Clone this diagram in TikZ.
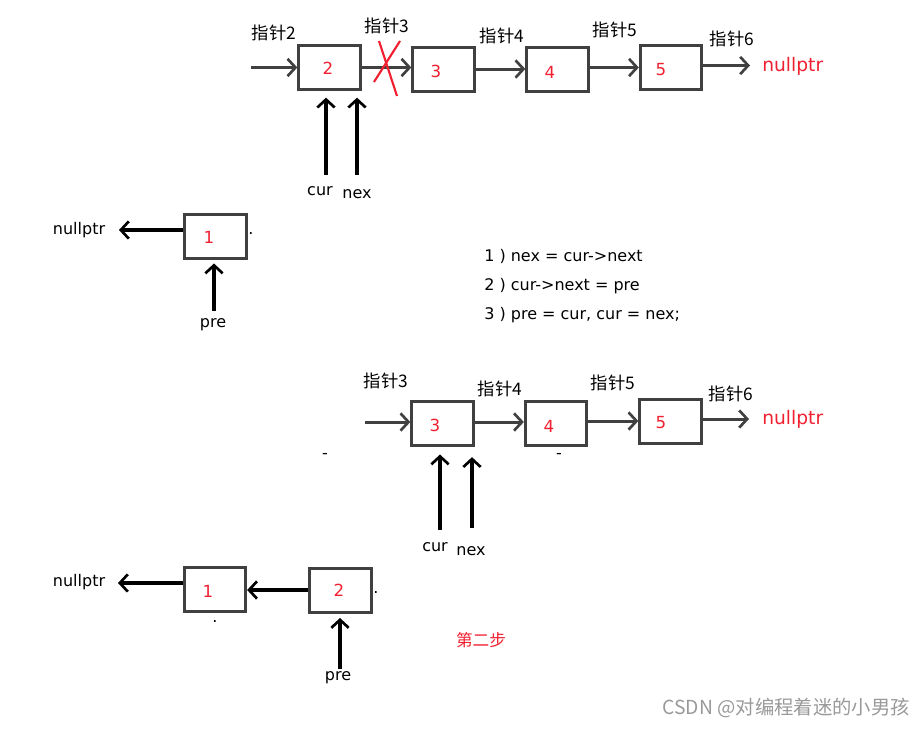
\documentclass[tikz,border=0pt]{standalone}
\usepackage{fontspec}
\setmainfont{Noto Sans CJK SC}
\newfontfamily\latfont{DejaVu Sans}
\usetikzlibrary{arrows.meta}
\definecolor{boxgray}{HTML}{404040}
\definecolor{numred}{HTML}{F02030}
\tikzset{
  box/.style={draw=boxgray,line width=2.25pt,minimum width=46pt,minimum height=33pt,inner sep=0pt},
  num/.style={text=numred,font=\latfont\fontsize{12.5}{14}\selectfont,inner sep=0pt},
  lbl/.style={font=\latfont\fontsize{12}{14}\selectfont,inner sep=0pt},
  cjk/.style={font=\fontsize{13}{15}\selectfont,inner sep=0pt},
  rarr/.style={draw=boxgray,line width=2.25pt,-{Straight Barb[length=6pt,width=13pt,line width=2pt]}},
  barr/.style={draw=black,line width=2.4pt,-{Straight Barb[length=6pt,width=13pt,line width=2pt]}},
}
\begin{document}
\begin{tikzpicture}[x=0.75pt,y=-0.75pt]
\useasboundingbox (0,0) rectangle (919,728);
% ---------- top row ----------
\node[box] (t2) at (329.5,67.5) {};
\node[box] (t3) at (443.5,69) {};
\node[box] (t4) at (557.5,69) {};
\node[box] (t5) at (671,67.5) {};
\node[num] (n2) at (328,68) {2};
\node[num] (n3) at (436,71) {3};
\node[num] (n4) at (550,72) {4};
\node[num] (n5) at (661,70) {5};
\coordinate (tin) at (251,67.5);
\coordinate (tout) at (750,65.5);
\draw[rarr] (tin) -- (t2.west);
\draw[rarr] (t2.east |- 0,67.5) -- (t3.west |- 0,67.5);
\draw[rarr] (t3.east) -- (t4.west);
\draw[rarr] (t4.east |- 0,67.5) -- (t5.west);
\draw[rarr] (t5.east |- 0,65.5) -- (tout);
\node[num,anchor=west,font=\latfont\fontsize{14}{16}\selectfont] (tnull) at (762,66) {nullptr};
\node[cjk] (p2) at (274,33) {指针2};
\node[cjk] (p3) at (387,26) {指针3};
\node[cjk] (p4) at (502,36) {指针4};
\node[cjk] (p5) at (615,30) {指针5};
\node[cjk] (p6) at (732,39) {指针6};
% red cross
\coordinate (xa) at (379,41);
\coordinate (xb) at (397,96);
\coordinate (xc) at (400,41);
\coordinate (xd) at (374,82);
\draw[numred,line width=1.6pt] (xa) -- (xb);
\draw[numred,line width=1.6pt] (xc) -- (xd);
% cur / nex
\coordinate (curt) at (326,175);
\coordinate (next) at (357,175);
\draw[barr,shorten >=5pt] (curt) -- (curt |- t2.south);
\draw[barr,shorten >=5pt] (next) -- (next |- t2.south);
\node[lbl] (cur1) at (320,191) {cur};
\node[lbl] (nex1) at (357,194) {nex};
% ---------- middle ----------
\node[box] (m1) at (215.5,236) {};
\node[num] (mn1) at (209,237) {1};
\coordinate (mnullp) at (119,230);
\draw[barr] (m1.west |- 0,230) -- (mnullp);
\node[lbl] (mnull) at (79,230) {nullptr};
\coordinate (pret) at (214,311);
\draw[barr,shorten >=3pt] (pret) -- (pret |- m1.south);
\node[lbl] (pre1) at (213,325) {pre};
\node[lbl] (dot1) at (251,234) {.};
\node[lbl,anchor=west,align=left,font=\latfont\fontsize{12}{21.75}\selectfont] (code) at (484,286) {1 ) nex = cur->next\\2 ) cur->next = pre\\3 ) pre = cur, cur = nex;};
% ---------- second row ----------
\node[box] (s3) at (442.5,423) {};
\node[box] (s4) at (556,423) {};
\node[box] (s5) at (670.5,421.5) {};
\node[num] (sn3) at (435,425) {3};
\node[num] (sn4) at (549,426) {4};
\node[num] (sn5) at (661,423) {5};
\coordinate (sin) at (365,422);
\coordinate (sout) at (749,419);
\draw[rarr] (sin) -- (s3.west |- 0,422);
\draw[rarr] (s3.east |- 0,422) -- (s4.west |- 0,422);
\draw[rarr] (s4.east |- 0,421) -- (s5.west |- 0,421);
\draw[rarr] (s5.east |- 0,419) -- (sout);
\node[num,anchor=west,font=\latfont\fontsize{14}{16}\selectfont] (snull) at (762,419) {nullptr};
\node[cjk] (q3) at (386,381) {指针3};
\node[cjk] (q4) at (500,389) {指针4};
\node[cjk] (q5) at (613,383) {指针5};
\node[cjk] (q6) at (731,394) {指针6};
\coordinate (curt2) at (440,530);
\coordinate (next2) at (472,528);
\draw[barr,shorten >=6pt] (curt2) -- (curt2 |- s3.south);
\draw[barr,shorten >=8pt] (next2) -- (next2 |- s3.south);
\node[lbl] (cur2) at (435,547) {cur};
\node[lbl] (nex2) at (471,551) {nex};
\node[lbl] (dot2) at (325,456) {-};
\node[lbl] (dot3) at (559,456) {-};
% ---------- bottom ----------
\node[box] (b1) at (215,589.5) {};
\node[box] (b2) at (340.5,590.5) {};
\node[num] (bn1) at (208,591) {1};
\node[num] (bn2) at (339,590) {2};
\coordinate (bnullp) at (118,583);
\draw[barr] (b1.west |- 0,583) -- (bnullp);
\draw[barr] (b2.west |- 0,590) -- (b1.east |- 0,590);
\node[lbl] (bnull) at (79,582) {nullptr};
\coordinate (pret2) at (340,669);
\draw[barr,shorten >=3pt] (pret2) -- (pret2 |- b2.south);
\node[lbl] (pre2) at (338,678) {pre};
\node[lbl] (dot4) at (215,621) {.};
\node[lbl] (dot5) at (376,592) {.};
\node[cjk,text=numred,font=\fontsize{12.5}{14}\selectfont] (step) at (481,640) {第二步};
\node[inner sep=0pt,text=black!40,anchor=east,font=\fontsize{14.5}{16}\selectfont] (wm) at (910,708) {CSDN @对编程着迷的小男孩};
\end{tikzpicture}
\end{document}
